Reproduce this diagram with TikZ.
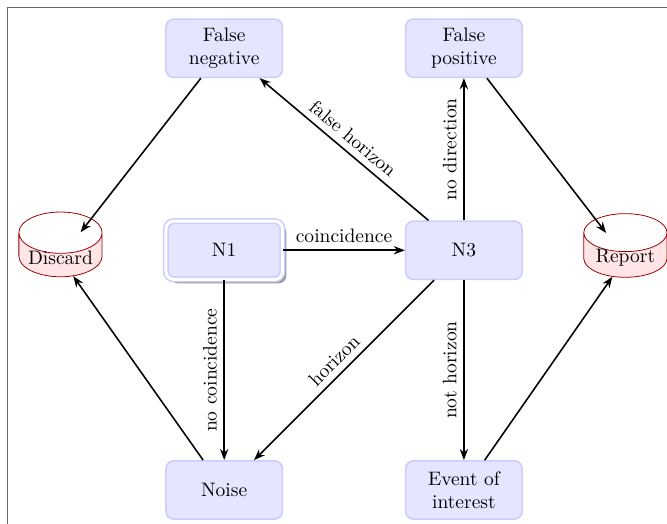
\documentclass[tikz,border=0pt]{standalone}
\usepackage{tikz}
\usetikzlibrary{shapes,arrows,shadows}
\usetikzlibrary{arrows.meta}
\tikzset{>=Stealth}
\tikzstyle{stage}=[rectangle, rounded corners=4pt, draw=blue!20, fill=blue!10, thick, minimum width=2.1cm, minimum height=1.05cm, align=center]
\tikzstyle{tank}=[cylinder, shape border rotate=90, aspect=0.6, inner xsep=1pt, inner ysep=-1.3pt, draw=red!60!black, cylinder uses custom fill, cylinder body fill=red!10, cylinder end fill=white, minimum width=1.5cm, minimum height=0.3cm]
\tikzstyle{arw}=[-{Stealth[length=2mm]}, thick]
\tikzstyle{intop}=[shorten >=-9pt]

\begin{document}
\begin{tikzpicture}
    \useasboundingbox (0,0) rectangle (12.02,-9.44);
    \draw[black!60] (0.14,-0.13) rectangle (13,-10);

    \node[stage] (fneg) at (4.04,-0.87) {False\\negative};
    \node[stage] (fpos) at (8.36,-0.87) {False\\positive};
    \node[stage, double=white, double distance=1.5pt, drop shadow={fill=black!40, opacity=1, shadow xshift=2pt, shadow yshift=-2pt}] (n1) at (4.04,-4.51) {N1};
    \node[stage] (n3) at (8.36,-4.51) {N3};
    \node[stage] (noise) at (4.04,-8.83) {Noise};
    \node[stage] (event) at (8.36,-8.83) {Event of\\interest};
    \node[tank] (discard) at (1.09,-4.65) {Discard};
    \node[tank] (report) at (11.27,-4.65) {Report};

    % main flow
    \draw[arw] (n1) -- node[above]{coincidence} (n3);
    \draw[arw] (n1) -- node[midway, rotate=90, above]{no coincidence} (noise);
    \draw[arw] (n3) -- node[midway, sloped, above]{no direction} (fpos);
    \draw[arw] (n3) -- node[midway, rotate=90, above]{not horizon} (event);
    \draw[arw] (n3) -- node[midway, sloped, above]{false horizon} (fneg);
    \draw[arw] (n3) -- node[midway, sloped, above]{horizon} (noise);

    % outcomes
    \draw[arw, intop] (fneg) -- (discard);
    \draw[arw] (noise) -- (discard);
    \draw[arw, intop] (fpos) -- (report);
    \draw[arw] (event) -- (report);
\end{tikzpicture}
\end{document}
